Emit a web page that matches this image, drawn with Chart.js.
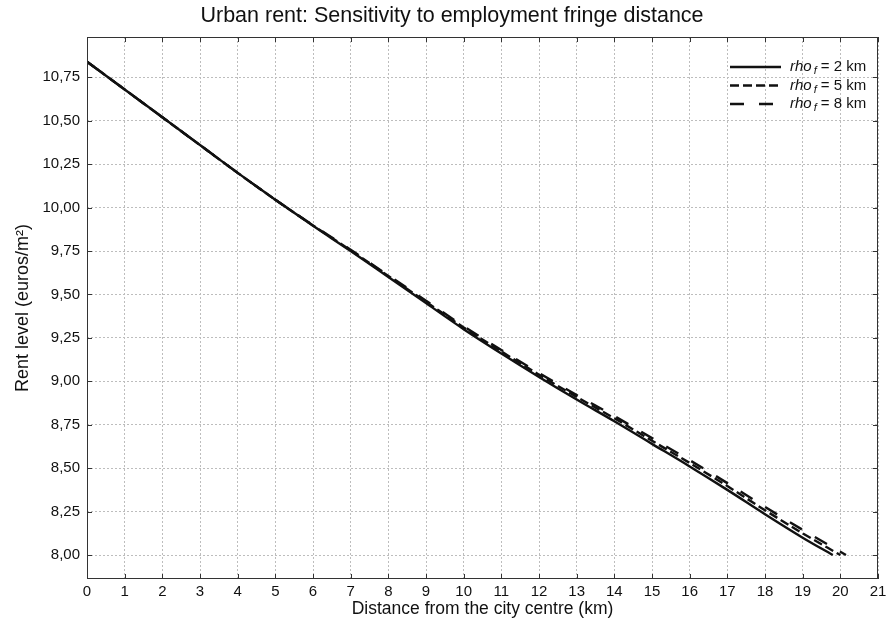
<!DOCTYPE html>
<html>
<head>
<meta charset="utf-8">
<script src="https://cdn.jsdelivr.net/npm/chart.js@4/dist/chart.umd.min.js"></script>
<style>
  html, body { margin: 0; padding: 0; background: #fff; }
  #wrap { width: 886px; height: 620px; }
</style>
</head>
<body>
<div id="wrap"><canvas id="rentChart" width="886" height="620"></canvas></div>
<script>
// distance from the centre (km) and rent (euros/m2)
var km2 = [0, 1, 2, 3, 4, 5, 6, 7, 8, 9, 10, 11, 12, 13, 14, 15, 16, 17, 18, 19, 19.8];
var rent2 = [10.84, 10.68, 10.52, 10.36, 10.20, 10.045, 9.895, 9.75, 9.60, 9.45, 9.30, 9.16, 9.025, 8.895, 8.77, 8.64, 8.51, 8.375, 8.235, 8.10, 8.00];

var km5 = [0, 1, 2, 3, 4, 5, 6, 7, 8, 9, 10, 11, 12, 13, 14, 15, 16, 17, 18, 19, 20.0];
var rent5 = [10.84, 10.68, 10.52, 10.36, 10.20, 10.045, 9.897, 9.754, 9.606, 9.458, 9.31, 9.172, 9.038, 8.91, 8.787, 8.658, 8.53, 8.397, 8.258, 8.125, 8.00];

var km8 = [0, 1, 2, 3, 4, 5, 6, 7, 8, 9, 10, 11, 12, 13, 14, 15, 16, 17, 18, 19, 20.15];
var rent8 = [10.84, 10.68, 10.52, 10.36, 10.20, 10.045, 9.899, 9.757, 9.61, 9.464, 9.317, 9.18, 9.048, 8.921, 8.80, 8.673, 8.546, 8.414, 8.277, 8.145, 8.00];

var rhoLabels = ['2', '5', '8'];
var yTicks = [8.00, 8.25, 8.50, 8.75, 9.00, 9.25, 9.50, 9.75, 10.00, 10.25, 10.50, 10.75];
var xTicks = [0, 1, 2, 3, 4, 5, 6, 7, 8, 9, 10, 11, 12, 13, 14, 15, 16, 17, 18, 19, 20, 21];
var chartTitle = 'Urban rent: Sensitivity to employment fringe distance';

var FONT = "'Liberation Sans', Arial, Helvetica, sans-serif";
var dashes = [[], [9, 4], [14, 15]];

function toPoints(xs, ys) {
	var pts = [];
	for (var i = 0; i < xs.length; i++) {
		pts.push({x: xs[i], y: ys[i]});
	}
	return pts;
}

var series = [toPoints(km2, rent2), toPoints(km5, rent5), toPoints(km8, rent8)];
var datasets = [];
for (var s = 0; s < series.length; s++) {
	datasets.push({
		label: 'rho f = ' + rhoLabels[s] + ' km',
		data: series[s],
		borderColor: '#111',
		borderWidth: 2.4,
		borderDash: dashes[s],
		pointRadius: 0,
		fill: false,
		cubicInterpolationMode: 'monotone'
	});
}

// title, frame, inward ticks and the legend with subscript
var framePlugin = {
	id: 'frame',
	afterDraw: function(chart) {
		var ctx = chart.ctx;
		var a = chart.chartArea;
		var xs = chart.scales.x, ys = chart.scales.y;
		ctx.save();

		ctx.fillStyle = '#111';
		ctx.font = '21.5px ' + FONT;
		ctx.textAlign = 'center';
		ctx.textBaseline = 'middle';
		ctx.fillText(chartTitle, 452, 16);

		ctx.strokeStyle = '#333';
		ctx.lineWidth = 1;
		ctx.setLineDash([]);
		ctx.strokeRect(a.left + 0.5, a.top + 0.5, a.right - a.left - 1, a.bottom - a.top - 1);
		ctx.beginPath();
		for (var i = 0; i < xTicks.length; i++) {
			var px = Math.round(xs.getPixelForValue(xTicks[i])) + 0.5;
			ctx.moveTo(px, a.bottom); ctx.lineTo(px, a.bottom - 5);
			ctx.moveTo(px, a.top); ctx.lineTo(px, a.top + 5);
		}
		for (var j = 0; j < yTicks.length; j++) {
			var py = Math.round(ys.getPixelForValue(yTicks[j])) + 0.5;
			ctx.moveTo(a.left, py); ctx.lineTo(a.left + 5, py);
			ctx.moveTo(a.right, py); ctx.lineTo(a.right - 5, py);
		}
		ctx.stroke();

		// legend
		var lx = a.right - 148, ly = a.top + 30;
		for (var k = 0; k < chart.data.datasets.length; k++) {
			var y = ly + k * 18.5;
			ctx.strokeStyle = '#111';
			ctx.lineWidth = 2.4;
			ctx.setLineDash(dashes[k]);
			ctx.beginPath();
			ctx.moveTo(lx, y); ctx.lineTo(lx + 51, y);
			ctx.stroke();
			ctx.setLineDash([]);
			ctx.fillStyle = '#111';
			ctx.textBaseline = 'middle';
			ctx.textAlign = 'left';
			var tx = lx + 60;
			ctx.font = 'italic 15px ' + FONT;
			ctx.fillText('rho', tx, y);
			tx += ctx.measureText('rho').width + 2;
			ctx.font = 'italic 11px ' + FONT;
			ctx.fillText('f', tx, y + 4);
			tx += ctx.measureText('f').width + 4;
			ctx.font = '15px ' + FONT;
			ctx.fillText('= ' + rhoLabels[k] + ' km', tx, y);
		}
		ctx.restore();
	}
};

function noPad(scale) {
	scale.paddingLeft = 0;
	scale.paddingRight = 0;
	scale.paddingTop = 0;
	scale.paddingBottom = 0;
}

new Chart(document.getElementById('rentChart'), {
	type: 'line',
	data: { datasets: datasets },
	plugins: [framePlugin],
	options: {
		responsive: false,
		animation: false,
		layout: { padding: { left: 0, right: 8, top: 37, bottom: 0 } },
		plugins: {
			legend: { display: false },
			tooltip: { enabled: false },
			title: { display: false }
		},
		scales: {
			x: {
				type: 'linear',
				min: 0,
				max: 21,
				afterBuildTicks: function(scale) {
					scale.ticks = xTicks.map(function(v) { return {value: v}; });
				},
				afterFit: function(scale) { scale.height = 41; noPad(scale); },
				grid: { color: '#bdbdbd', drawTicks: false, lineWidth: 1 },
				border: { display: false, dash: [2, 2] },
				ticks: { color: '#111', font: { family: FONT, size: 15 }, padding: 4, maxRotation: 0 },
				title: {
					display: true,
					text: 'Distance from the city centre (km)',
					color: '#111',
					font: { family: FONT, size: 17.5 },
					padding: { top: 0, bottom: 0 }
				}
			},
			y: {
				type: 'linear',
				min: 7.862,
				max: 10.982,
				afterBuildTicks: function(scale) {
					scale.ticks = yTicks.map(function(v) { return {value: v}; });
				},
				afterFit: function(scale) { scale.width = 87; noPad(scale); },
				grid: { color: '#bdbdbd', drawTicks: false, lineWidth: 1 },
				border: { display: false, dash: [2, 2] },
				ticks: {
					color: '#111',
					font: { family: FONT, size: 15 },
					padding: 7,
					callback: function(v) { return v.toFixed(2).replace('.', ','); }
				},
				title: {
					display: true,
					text: 'Rent level (euros/m²)',
					color: '#111',
					font: { family: FONT, size: 18 },
					padding: { top: 12, bottom: 12 }
				}
			}
		}
	}
});
</script>
</body>
</html>
